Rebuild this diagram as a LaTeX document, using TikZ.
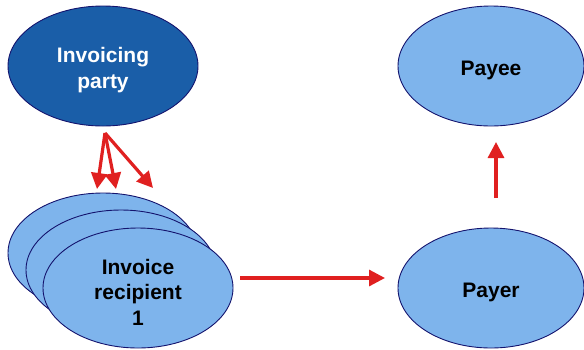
\documentclass[tikz,border=0pt]{standalone}
\usepackage{fontspec}
\setmainfont{Liberation Sans}
\usetikzlibrary{positioning, shapes.geometric, arrows.meta}
\definecolor{partylight}{RGB}{126,180,236}
\definecolor{partydark}{RGB}{26,94,168}
\definecolor{partyline}{RGB}{20,20,110}
\definecolor{arrred}{RGB}{224,32,32}

\begin{document}
\begin{tikzpicture}[
                x=1pt, y=-1pt,
                party/.style={ellipse, draw=partyline, line width=0.9pt, fill=partylight,
                    minimum width=190pt, minimum height=120pt, inner sep=0pt},
                partybold/.style={party, fill=partydark},
                ptext/.style={align=center, yshift=-4pt, inner sep=0pt,
                    font=\fontsize{21}{25.5}\selectfont\bfseries},
                arr/.style={-{Triangle[length=16pt, width=16pt]}, draw=arrred, line width=3.2pt},
            ]
            \useasboundingbox (0,0) rectangle (584,349);

            % === left column ===
            \node[partybold, label={[ptext, text=white]center:Invoicing\\party}] (inv) at (103,66) {};
            \node[party] (rec3) at (103,253) {};
            \node[party] (rec2) at (121,270) {};
            \node[party, label={[ptext]center:Invoice\\recipient\\1}] (rec1) at (138,288) {};

            % === right column ===
            \node[party, minimum width=186pt, label={[ptext]center:Payee}] (payee) at (491,66) {};
            \node[party, minimum width=186pt, label={[ptext]center:Payer}] (payer) at (491,288) {};

            % === arrow ends ===
            \coordinate (fan) at (105,133);
            \coordinate (fan1) at (97,189);
            \coordinate (fan2) at (116,189);
            \coordinate (fan3) at (153,188);
            \coordinate (pay0) at (240,278);
            \coordinate (pay1) at (385,278);
            \coordinate (up0) at (496,198);
            \coordinate (up1) at (496,142);

            \foreach \t in {fan1, fan2, fan3} {
                \draw[arr] (fan) -- (\t);
            }
            \draw[arr] (pay0) -- (pay1);
            \draw[arr] (up0) -- (up1);
\end{tikzpicture}
\end{document}
